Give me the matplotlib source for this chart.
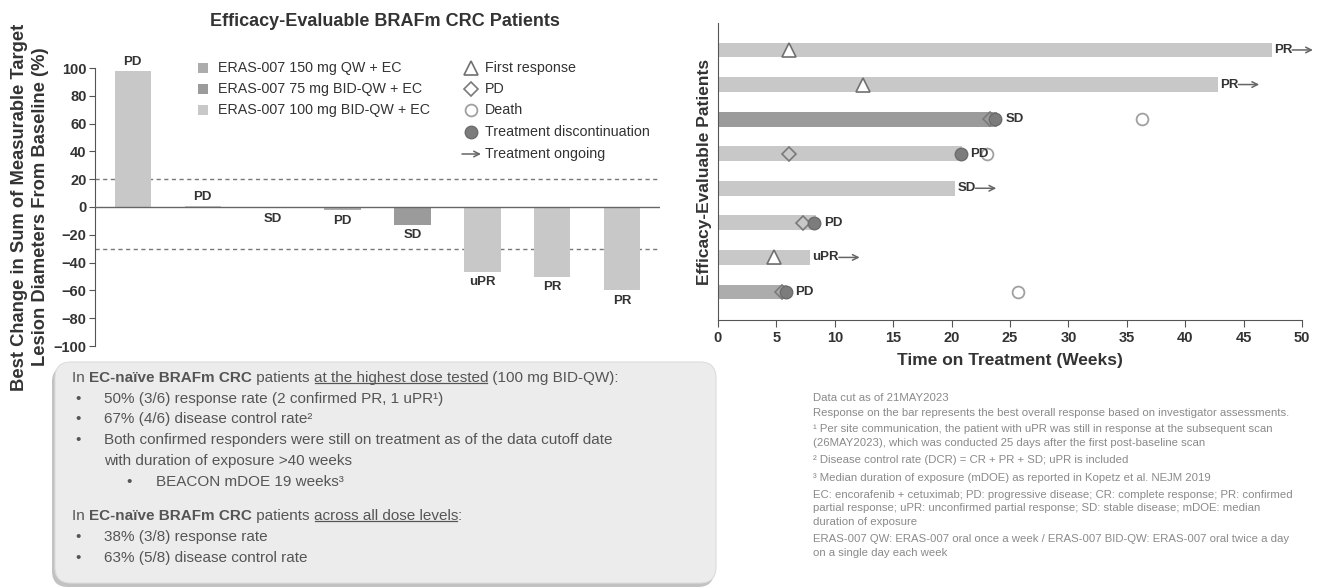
import numpy as np
import matplotlib.pyplot as plt
from matplotlib.patches import FancyBboxPatch, Rectangle
from matplotlib.lines import Line2D
from matplotlib.text import OffsetFrom

plt.rcParams['font.family'] = ['Liberation Sans', 'DejaVu Sans']

# ---- waterfall data (best change from baseline, %) ----
wf_change = [98, 1, -1, -2.5, -13, -47, -50, -60]
wf_response = ['PD', 'PD', 'SD', 'PD', 'SD', 'uPR', 'PR', 'PR']
wf_dose = ['100', '100', '100', '150', '75', '100', '100', '100']

# ---- swimmer data (weeks) ----
sw_weeks = [47.4, 42.8, 23.9, 20.9, 20.3, 8.4, 7.9, 5.9]
sw_response = ['PR', 'PR', 'SD', 'PD', 'SD', 'PD', 'uPR', 'PD']
sw_dose = ['100', '100', '75', '100', '100', '100', '100', '150']
sw_ongoing = [True, True, False, False, True, False, True, False]
sw_first_resp = [6.1, 12.4, np.nan, np.nan, np.nan, np.nan, 4.8, np.nan]
sw_pd = [np.nan, np.nan, 23.3, 6.1, np.nan, 7.3, np.nan, 5.5]
sw_discont = [np.nan, np.nan, 23.7, 20.8, np.nan, 8.2, np.nan, 5.8]
sw_death = [np.nan, np.nan, 36.3, 23.0, np.nan, np.nan, np.nan, 25.7]

dose_labels = {'150': 'ERAS-007 150 mg QW + EC',
               '75': 'ERAS-007 75 mg BID-QW + EC',
               '100': 'ERAS-007 100 mg BID-QW + EC'}
dose_colors = {'150': '#acacac', '75': '#9b9b9b', '100': '#c8c8c8'}

footnotes = [
    'Data cut as of 21MAY2023',
    'Response on the bar represents the best overall response based on investigator assessments.',
    '\u00b9 Per site communication, the patient with uPR was still in response at the subsequent scan',
    '(26MAY2023), which was conducted 25 days after the first post-baseline scan',
    '\u00b2 Disease control rate (DCR) = CR + PR + SD; uPR is included',
    '\u00b3 Median duration of exposure (mDOE) as reported in Kopetz et al. NEJM 2019',
    'EC: encorafenib + cetuximab; PD: progressive disease; CR: complete response; PR: confirmed',
    'partial response; uPR: unconfirmed partial response; SD: stable disease; mDOE: median',
    'duration of exposure',
    'ERAS-007 QW: ERAS-007 oral once a week / ERAS-007 BID-QW: ERAS-007 oral twice a day',
    'on a single day each week',
]
foot_y = [398, 413, 429, 443, 460, 478, 495, 508, 522, 539, 553]

W, H = 1322, 587
fig = plt.figure(figsize=(W / 100, H / 100), dpi=100)
ink = '#333333'
axis_col = '#555555'

# ================= waterfall =================
ax1 = fig.add_axes([95 / W, 1 - 346 / H, 565 / W, 278 / H])
x = np.arange(len(wf_change))
ax1.bar(x, wf_change, width=0.52, color=[dose_colors[d] for d in wf_dose], zorder=2)
ax1.set_xlim(-0.54, 7.54)
ax1.set_ylim(-100, 100)
ax1.set_yticks(np.arange(-100, 101, 20))
for s in ['top', 'right', 'bottom']:
    ax1.spines[s].set_visible(False)
ax1.spines['left'].set_color(axis_col)
ax1.set_xticks([])
ax1.tick_params(axis='y', direction='out', length=4, color=axis_col, pad=2)
for lab in ax1.get_yticklabels():
    lab.set_fontweight('bold')
    lab.set_fontsize(10.5)
    lab.set_color(ink)
ax1.axhline(0, color='#666666', lw=1, zorder=3)
for yy in [20, -30]:
    ax1.axhline(yy, color='#777777', lw=1, ls=(0, (3, 2.5)), zorder=1)
for xi, v, r in zip(x, wf_change, wf_response):
    if v > 0:
        ax1.annotate(r, (xi, v), xytext=(0, 2), textcoords='offset points', ha='center',
                     va='bottom', fontsize=9.5, fontweight='bold', color=ink)
    else:
        ax1.annotate(r, (xi, v), xytext=(0, -3), textcoords='offset points', ha='center',
                     va='top', fontsize=9.5, fontweight='bold', color=ink)

fig.text(30 / W, 1 - 207 / H,
         'Best Change in Sum of Measurable Target\nLesion Diameters From Baseline (%)',
         rotation=90, ha='center', va='center', multialignment='center',
         fontsize=13.2, fontweight='bold', color=ink, linespacing=1.3)
fig.text(385 / W, 1 - 21 / H, 'Efficacy-Evaluable BRAFm CRC Patients', ha='center',
         va='center', fontsize=13, fontweight='bold', color=ink)

# ================= swimmer =================
ax2 = fig.add_axes([718 / W, 1 - 320 / H, 584 / W, 297 / H])
n = len(sw_weeks)
y = np.arange(n, 0, -1)
ax2.barh(y, sw_weeks, height=0.43, color=[dose_colors[d] for d in sw_dose], zorder=1)
ax2.set_xlim(0, 50)
ax2.set_ylim(0.19, 8.78)
ax2.set_xticks(np.arange(0, 51, 5))
ax2.set_yticks([])
for s in ['top', 'right']:
    ax2.spines[s].set_visible(False)
for s in ['left', 'bottom']:
    ax2.spines[s].set_color(axis_col)
ax2.tick_params(axis='x', direction='out', length=5, color=axis_col, pad=3)
for lab in ax2.get_xticklabels():
    lab.set_fontweight('bold')
    lab.set_fontsize(10.5)
    lab.set_color(ink)
ax2.set_xlabel('Time on Treatment (Weeks)', fontsize=12.5, fontweight='bold', color=ink,
               labelpad=6)
ax2.set_ylabel('Efficacy-Evaluable Patients', fontsize=12.5, fontweight='bold', color=ink,
               labelpad=4)

ax2.plot(sw_first_resp, y, ls='none', marker='^', ms=10, mfc='white', mec='#707070',
         mew=1.2, zorder=4, clip_on=False)
ax2.plot(sw_death, y, ls='none', marker='o', ms=8.5, mfc='white', mec='#a0a0a0',
         mew=1.3, zorder=4)
ax2.plot(sw_pd, y, ls='none', marker='D', ms=7.5, mfc='none', mec='#7a7a7a',
         mew=1.2, zorder=4)
ax2.plot(sw_discont, y, ls='none', marker='o', ms=9, mfc='#7c7c7c', mec='#6c6c6c',
         mew=1, zorder=5)

for yi, wk, r, og, dc in zip(y, sw_weeks, sw_response, sw_ongoing, sw_discont):
    off = 6 if not np.isnan(dc) else 1.5
    t = ax2.annotate(r, (wk, yi), xytext=(off, 0), textcoords='offset points', ha='left',
                     va='center', fontsize=9.5, fontweight='bold', color=ink,
                     annotation_clip=False, zorder=6)
    if og:
        ax2.annotate('', xy=(15, 0), xycoords=OffsetFrom(t, (1, 0.5)),
                     xytext=(0, 0), textcoords=OffsetFrom(t, (1, 0.5)),
                     arrowprops=dict(arrowstyle='->', color='#666666', lw=1.1,
                                     shrinkA=0, shrinkB=0), annotation_clip=False)

# ================= overlay (legends, text box, notes) =================
ov = fig.add_axes([0, 0, 1, 1], zorder=3)
ov.set_xlim(0, W)
ov.set_ylim(H, 0)
ov.axis('off')
ov.patch.set_alpha(0)

leg_y = [68, 89, 110, 132, 154]
for yy, d in zip(leg_y, ['150', '75', '100']):
    ov.add_patch(Rectangle((198, yy - 5), 10, 10, facecolor=dose_colors[d], edgecolor='none'))
    ov.text(218, yy, dose_labels[d], va='center', ha='left', fontsize=10.3, color=ink)

sym_x = 471
ov.plot(sym_x, leg_y[0], marker='^', ms=10, mfc='white', mec='#707070', mew=1.2)
ov.plot(sym_x, leg_y[1], marker='D', ms=7.5, mfc='white', mec='#7a7a7a', mew=1.2)
ov.plot(sym_x, leg_y[2], marker='o', ms=8.5, mfc='white', mec='#a0a0a0', mew=1.3)
ov.plot(sym_x, leg_y[3], marker='o', ms=9, mfc='#7c7c7c', mec='#6c6c6c', mew=1)
ov.annotate('', xy=(481, leg_y[4]), xytext=(462, leg_y[4]),
            arrowprops=dict(arrowstyle='->', color='#666666', lw=1.1, shrinkA=0, shrinkB=0))
for yy, s in zip(leg_y, ['First response', 'PD', 'Death', 'Treatment discontinuation',
                         'Treatment ongoing']):
    ov.text(485, yy, s, va='center', ha='left', fontsize=10.3, color=ink)

# summary box with a soft shadow
ov.add_patch(FancyBboxPatch((52, 366), 662, 221, boxstyle='round,pad=0,rounding_size=16',
                            facecolor='#9a9a9a', edgecolor='none', alpha=0.6, zorder=0))
ov.add_patch(FancyBboxPatch((55, 362), 661, 221, boxstyle='round,pad=0,rounding_size=16',
                            facecolor='#ececec', edgecolor='#dcdcdc', lw=0.8, zorder=1))

box_col = '#555555'
fs = 11
underlined = []


def rich_line(x0, y0, parts):
    prev = None
    for s, style in parts:
        kw = dict(fontsize=fs, color=box_col, zorder=2)
        if 'b' in style:
            kw['fontweight'] = 'bold'
        if prev is None:
            t = ov.text(x0, y0, s, va='center', ha='left', **kw)
        else:
            t = ov.annotate(s, xy=(1, 0), xycoords=prev, va='bottom', ha='left', **kw)
        if 'u' in style:
            underlined.append(t)
        prev = t


def line(x0, y0, s, bullet_x=None):
    if bullet_x is not None:
        ov.text(bullet_x, y0, '\u2022', va='center', ha='left', fontsize=fs, color=box_col,
                zorder=2)
    ov.text(x0, y0, s, va='center', ha='left', fontsize=fs, color=box_col, zorder=2)


rich_line(72, 378, [('In ', ''), ('EC-na\u00efve BRAFm CRC', 'b'), (' patients ', ''),
                    ('at the highest dose tested', 'u'), (' (100 mg BID-QW):', '')])
line(104, 399, '50% (3/6) response rate (2 confirmed PR, 1 uPR\u00b9)', 75)
line(104, 419, '67% (4/6) disease control rate\u00b2', 75)
line(104, 440, 'Both confirmed responders were still on treatment as of the data cutoff date', 75)
line(104, 461, 'with duration of exposure >40 weeks')
line(156, 482, 'BEACON mDOE 19 weeks\u00b3', 126)
rich_line(72, 516, [('In ', ''), ('EC-na\u00efve BRAFm CRC', 'b'), (' patients ', ''),
                    ('across all dose levels', 'u'), (':', '')])
line(104, 537, '38% (3/8) response rate', 75)
line(104, 558, '63% (5/8) disease control rate', 75)

for yy, s in zip(foot_y, footnotes):
    ov.text(813, yy, s, va='center', ha='left', fontsize=8.2, color='#8a8a8a')

# underline the emphasised phrases
fig.canvas.draw()
r = fig.canvas.get_renderer()
inv = ov.transData.inverted()
for t in underlined:
    bb = t.get_window_extent(r)
    yb = bb.y0 + 0.14 * bb.height
    (xa, ya), (xb, _) = inv.transform([(bb.x0 + 1, yb), (bb.x1 - 1, yb)])
    ov.add_line(Line2D([xa, xb], [ya, ya], color=box_col, lw=0.9, zorder=2))

fig.savefig('out.png', dpi=100)
